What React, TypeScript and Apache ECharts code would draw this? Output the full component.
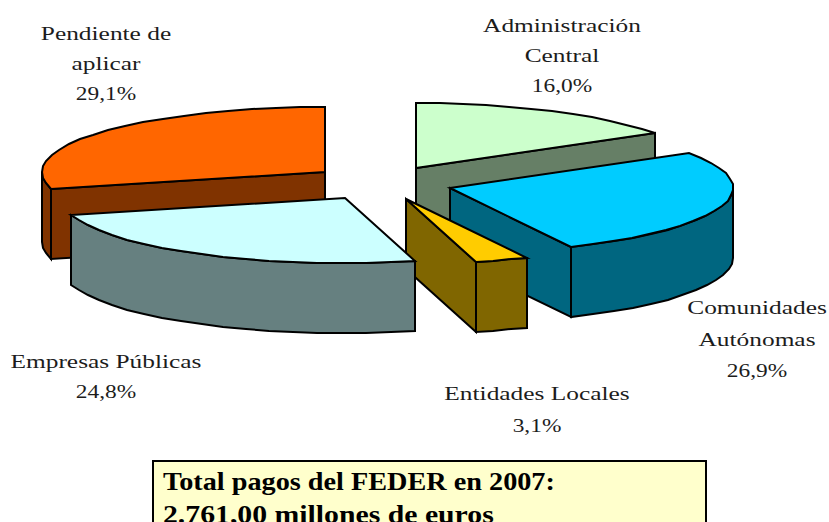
import React, { useEffect, useRef } from "react";
import * as echarts from "echarts";

const categories = ["Administración\nCentral", "Comunidades\nAutónomas", "Entidades Locales", "Empresas Públicas", "Pendiente de\naplicar"];
const shares = [16.0, 26.9, 3.1, 24.8, 29.1];
const boxLines = ["Total pagos del FEDER en 2007:", "2.761,00 millones de euros"];

const topColors = ["#CCFFCC", "#00CCFF", "#FFCC00", "#CCFFFF", "#FF6600"];
const sideColors = ["#667F66", "#006680", "#806600", "#668080", "#803300"];
const apexes = [[416, 168], [450, 188], [406, 199], [345, 198], [325, 172]];
const drawRank = [0, 2, 3, 4, 1];
const labelCentres = [[562, 26], [757, 308], [537, 394], [106, 362], [106, 34]];
const labelGaps = [30, 31.5, 32, 30, 30];
const boxScales = [1.13, 1.19];
const RX = 283, RY = 65, DEPTH = 70;
const FONT = '"Liberation Serif", serif';
const total = shares.reduce((a, b) => a + b, 0);
const rad = (d: number) => (d * Math.PI) / 180;

const fmt = (v: number) => v.toFixed(1).replace(".", ",") + "%";

function rimPoint(c: number[], deg: number) {
  return [Math.round(c[0] + RX * Math.sin(rad(deg))), Math.round(c[1] - RY * Math.cos(rad(deg)))];
}
function arcPoints(c: number[], a: number, b: number) {
  const n = Math.max(1, Math.ceil((b - a) / 5));
  const out: number[][] = [];
  for (let i = 0; i <= n; i++) out.push(rimPoint(c, a + ((b - a) * i) / n));
  return out;
}

function renderItem(params: any, api: any) {
  const i = params.dataIndex;
  const value = api.value(1);
  let before = 0;
  for (let k = 0; k < i; k++) before += shares[k];
  const a = (before / total) * 360;
  const b = a + (value / total) * 360;
  const c = apexes[i];
  const rank = drawRank[i] * 10;
  const line = { stroke: "#000", lineWidth: 2, lineJoin: "miter" };
  const children: any[] = [];
  const down = (p: number[]) => [p[0], p[1] + DEPTH];
  const side = (pts: number[][], z: number) =>
    children.push({
      type: "polygon",
      z2: rank + z,
      shape: { points: [...pts, ...pts.slice().reverse().map(down)] },
      style: { ...line, fill: sideColors[i] },
    });
  if (Math.sin(rad(a)) < 0) side([rimPoint(c, a), c], 1);
  if (Math.sin(rad(b)) > 0) side([c, rimPoint(c, b)], 1);
  const fa = Math.max(a, 90), fb = Math.min(b, 270);
  if (fb > fa) side(arcPoints(c, fa, fb), 2);
  children.push({
    type: "polygon",
    z2: rank + 5,
    shape: { points: [c, ...arcPoints(c, a, b)] },
    style: { ...line, fill: topColors[i] },
  });
  return { type: "group", children };
}

function textLine(text: string, x: number, y: number, scaleX: number) {
  return {
    type: "text",
    x,
    y,
    scaleX,
    z: 10,
    style: { text, font: `18px ${FONT}`, fill: "#1c1c1c", textAlign: "center", textVerticalAlign: "middle" },
  };
}

export default function App() {
  const ref = useRef<HTMLDivElement>(null);
  useEffect(() => {
    const chart = echarts.init(ref.current!, undefined, { renderer: "svg" });
    const graphic: any[] = [];
    categories.forEach((name, i) => {
      const nameLines = name.split("\n");
      nameLines.forEach((t, k) =>
        graphic.push(textLine(t, labelCentres[i][0], labelCentres[i][1] + k * labelGaps[i], 1.41))
      );
      graphic.push(textLine(fmt(shares[i]), labelCentres[i][0], labelCentres[i][1] + nameLines.length * labelGaps[i], 1.3));
    });
    graphic.push({
      type: "rect",
      z: 10,
      shape: { x: 153, y: 461, width: 553, height: 80 },
      style: { fill: "#FFFFCC", stroke: "#000", lineWidth: 2 },
    });
    boxLines.forEach((t, k) =>
      graphic.push({
        type: "text",
        x: 163,
        y: 482 + k * 33,
        z: 11,
        scaleX: boxScales[k],
        style: { text: t, font: `bold 25px ${FONT}`, fill: "#000", textAlign: "left", textVerticalAlign: "middle" },
      })
    );
    chart.setOption({
      animation: false,
      backgroundColor: "#fff",
      graphic,
      series: [
        {
          type: "custom",
          coordinateSystem: "none",
          silent: true,
          renderItem,
          data: shares.map((v, i) => [i, v]),
        },
      ],
    });
    return () => chart.dispose();
  }, []);
  return <div ref={ref} style={{ position: "absolute", left: 0, top: 0, width: 829, height: 522, overflow: "hidden" }} />;
}
